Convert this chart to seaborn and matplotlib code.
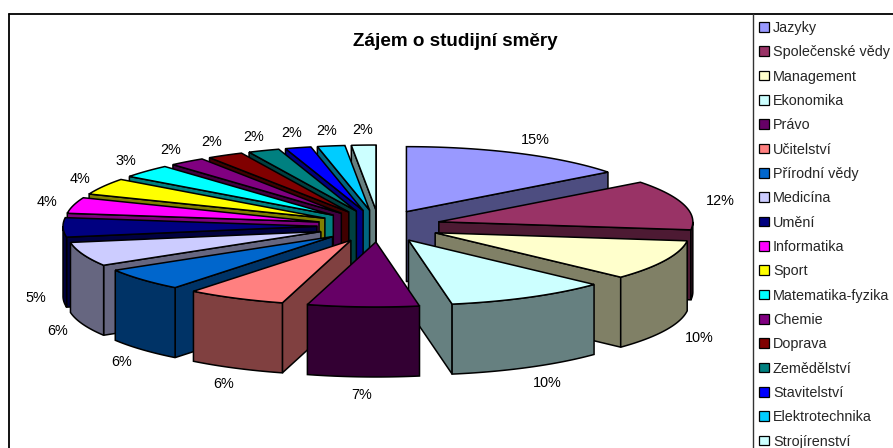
import numpy as np
import matplotlib
matplotlib.use("Agg")
import matplotlib.pyplot as plt
from matplotlib.patches import Patch, Polygon
import seaborn as sns

categories = ["Jazyky", "Společenské vědy", "Management", "Ekonomika", "Právo",
              "Učitelství", "Přírodní vědy", "Medicína", "Umění", "Informatika",
              "Sport", "Matematika-fyzika", "Chemie", "Doprava", "Zemědělství",
              "Stavitelství", "Elektrotechnika", "Strojírenství"]
values = [14.6, 12.4, 10, 10.3, 7.1, 6.3, 5.7, 6.0, 4.8, 3.95, 4.1, 3.3, 2.3, 2.3,
          2.0, 1.65, 1.75, 1.55]
colors = ["#9999FF", "#993366", "#FFFFCC", "#CCFFFF", "#660066", "#FF8080",
          "#0066CC", "#CCCCFF", "#000080", "#FF00FF", "#FFFF00", "#00FFFF",
          "#800080", "#800000", "#008080", "#0000FF", "#00CCFF", "#CCFFFF"]
title = "Zájem o studijní směry"

sns.set_style("white")
plt.rcParams["font.family"] = ["Liberation Sans", "DejaVu Sans"]
palette = sns.color_palette(colors)

W, H = 893, 448
fig = plt.figure(figsize=(W / 100, H / 100), dpi=100)
ax = fig.add_axes([0, 0, 1, 1])
ax.set_xlim(0, W)
ax.set_ylim(H, 0)
ax.axis("off")

# pie geometry in pixels
CX, CY = 379, 226
RX, RY = 254, 65
EX, EY = 62, 16
DEPTH = 70
LX_RIGHT, LX_LEFT = 292, 281
LY_BACK, LY_FRONT = 80, 83
LW = 1.1
FS = 10.4

fr = np.array(values, dtype=float) / sum(values)
ends = np.cumsum(fr) * 2 * np.pi
starts = ends - fr * 2 * np.pi
mids = (starts + ends) / 2


def pt(ox, oy, a):
    return np.array([ox + RX * np.sin(a), oy - RY * np.cos(a)])


order = np.argsort(-np.cos(mids))
for z, i in enumerate(order):
    a1, a2, m = starts[i], ends[i], mids[i]
    ox = CX + EX * np.sin(m)
    oy = CY - EY * np.cos(m)
    top = np.array(palette[i])
    side = top * 0.5
    down = np.array([0, DEPTH])
    apex = np.array([ox, oy])
    base = 10 + z * 5
    arc = np.array([pt(ox, oy, a) for a in np.linspace(a1, a2, 60)])
    if np.sin(a1) < 0:
        q = [apex, pt(ox, oy, a1), pt(ox, oy, a1) + down, apex + down]
        ax.add_patch(Polygon(q, fc=side, ec="black", lw=LW, zorder=base))
    if np.sin(a2) > 0:
        q = [apex, pt(ox, oy, a2), pt(ox, oy, a2) + down, apex + down]
        ax.add_patch(Polygon(q, fc=side, ec="black", lw=LW, zorder=base + 1))
    lo, hi = max(a1, np.pi / 2), min(a2, 3 * np.pi / 2)
    if hi > lo:
        upper = np.array([pt(ox, oy, a) for a in np.linspace(lo, hi, 60)])
        q = np.vstack([upper, (upper + down)[::-1]])
        ax.add_patch(Polygon(q, fc=side, ec="black", lw=LW, zorder=base + 2))
    ax.add_patch(Polygon(np.vstack([apex, arc]), fc=top, ec="black", lw=LW,
                         zorder=base + 3))
    lx = ox + (LX_RIGHT if np.sin(m) > 0 else LX_LEFT) * np.sin(m)
    if np.cos(m) < 0:
        ly = oy - LY_FRONT * np.cos(m) + DEPTH
    else:
        ly = oy - LY_BACK * np.cos(m)
    ax.text(lx, ly, f"{values[i]:.0f}%", ha="center", va="center", fontsize=FS,
            color="black", zorder=300)

ax.text(455, 41.5, title, ha="center", va="center", fontsize=13.6,
        fontweight="bold", color="black", zorder=300)

# chart area frame and legend rule
ax.plot([9, 9], [14, H], color="black", lw=1.3, zorder=200)
ax.plot([9, W], [14, 14], color="black", lw=1.3, zorder=200)
ax.plot([752.5, 752.5], [14, H], color="#333333", lw=1.0, zorder=200)

handles = [Patch(facecolor=c, edgecolor="black", linewidth=0.9) for c in palette]
fig.legend(handles, categories, loc="upper left",
           bbox_to_anchor=(759 / W, 1 - 21 / H), bbox_transform=fig.transFigure,
           frameon=False, fontsize=FS, handlelength=0.66, handleheight=0.66,
           handletextpad=0.3, labelspacing=0.715, borderpad=0, borderaxespad=0)

fig.savefig("out.png", dpi=100)
